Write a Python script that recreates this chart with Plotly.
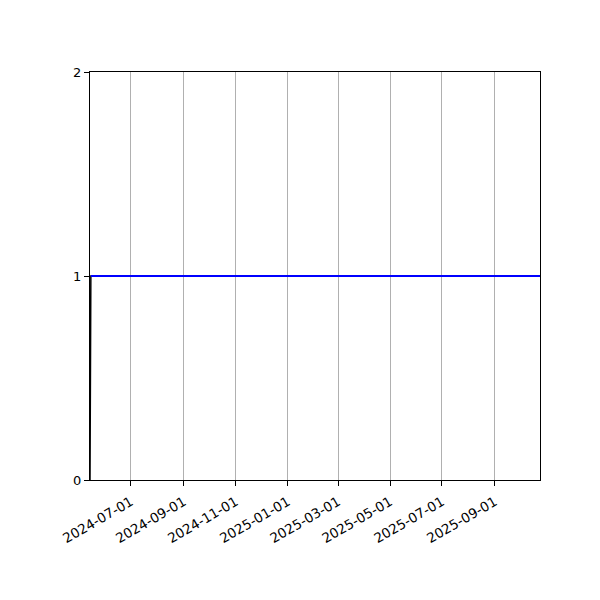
import plotly.graph_objects as go

# data
black_dates = ["2024-05-14", "2024-05-15", "2025-10-24"]
black_values = [0, 1, 1]
blue_dates = ["2024-05-15", "2025-10-24"]
blue_values = [1, 1]

tick_dates = ["2024-07-01", "2024-09-01", "2024-11-01", "2025-01-01",
              "2025-03-01", "2025-05-01", "2025-07-01", "2025-09-01"]
y_ticks = [0, 1, 2]

fig = go.Figure()
fig.add_trace(go.Scatter(x=black_dates, y=black_values, mode="lines",
                         line=dict(color="black", width=1.5)))
fig.add_trace(go.Scatter(x=blue_dates, y=blue_values, mode="lines",
                         line=dict(color="blue", width=2)))

# page body adds 8px, so margins are shifted to compensate
fig.update_layout(
    width=600, height=600,
    margin=dict(l=82, r=68, t=64, b=128),
    plot_bgcolor="white", paper_bgcolor="white",
    showlegend=False,
    font=dict(family="DejaVu Sans", size=13, color="black"),
)
fig.update_xaxes(
    type="date", range=["2024-05-14", "2025-10-24"],
    tickvals=tick_dates, ticktext=tick_dates, tickangle=-30,
    tickfont=dict(size=13.5), ticklabelstandoff=3,
    showgrid=True, gridcolor="#b0b0b0", gridwidth=1,
    showline=True, linecolor="black", linewidth=1, mirror=True,
    ticks="outside", ticklen=5, tickcolor="black", zeroline=False,
)
fig.update_yaxes(
    range=[0, 2], tickvals=y_ticks, showgrid=False,
    showline=True, linecolor="black", linewidth=1, mirror=True,
    ticks="outside", ticklen=5, tickcolor="black", zeroline=False,
)

fig.write_html("out.html")
